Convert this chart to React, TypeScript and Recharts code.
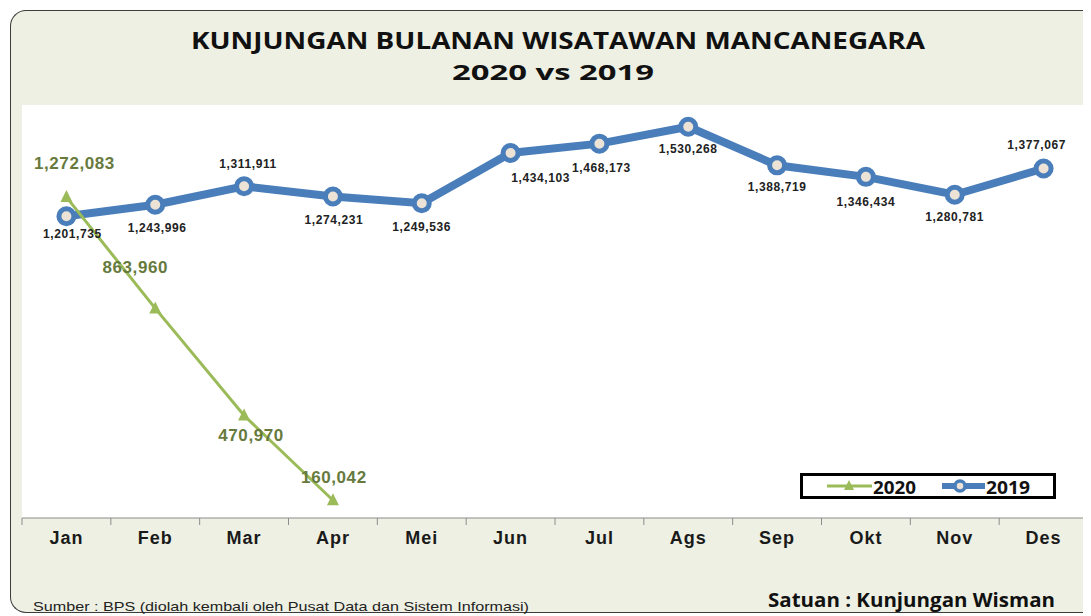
import React from 'react';
import { LineChart, Line, XAxis, YAxis, CartesianGrid, LabelList } from 'recharts';

const MONTHS = ['Jan', 'Feb', 'Mar', 'Apr', 'Mei', 'Jun', 'Jul', 'Ags', 'Sep', 'Okt', 'Nov', 'Des'];
const VISITS_2019 = [1201735, 1243996, 1311911, 1274231, 1249536, 1434103, 1468173, 1530268, 1388719, 1346434, 1280781, 1377067];
const VISITS_2020 = [1272083, 863960, 470970, 160042];

// label placement relative to each point (dx, dy)
const OFFSET_2019 = [[6, 18], [2, 23], [4, -22], [1, 23], [0, 24], [30, 25], [2, 24], [0, 22], [0, 22], [0, 25], [0, 22], [-7, -23]];
const OFFSET_2020 = [[8, -34], [-20, -41], [7, 20], [1, -23]];

const W = 1083;
const H = 608;
const PLOT_LEFT = 14;
const PLOT_RIGHT = 3;
const BAND = (W - PLOT_LEFT - PLOT_RIGHT) / MONTHS.length;

const BLUE = '#4a7ebb';
const GREEN = '#9bbb59';

const data = MONTHS.map((m, i) => ({
  month: m,
  v2019: VISITS_2019[i],
  v2020: i < VISITS_2020.length ? VISITS_2020[i] : null,
}));

const fmt = (v: number) => v.toLocaleString('en-US');

function MonthTick(props: any) {
  const { x, y, payload, index } = props;
  return (
    <g>
      <line x1={x - BAND / 2} x2={x - BAND / 2} y1={y} y2={y + 7} stroke="#8c8c8c" />
      {index === MONTHS.length - 1 && (
        <line x1={x + BAND / 2} x2={x + BAND / 2} y1={y} y2={y + 7} stroke="#8c8c8c" />
      )}
      <text x={x} y={y + 26} textAnchor="middle" fontFamily="Liberation Sans, Arial, sans-serif" fontWeight="bold" fontSize={18} letterSpacing={1} fill="#1a1a1a">
        {payload.value}
      </text>
    </g>
  );
}

function Dot2019(props: any) {
  const { cx, cy } = props;
  if (cx == null || cy == null) return <g />;
  return <circle cx={cx} cy={cy} r={7.5} fill="#ece3d6" stroke={BLUE} strokeWidth={5} />;
}

function Dot2020(props: any) {
  const { cx, cy, payload } = props;
  if (cx == null || cy == null || payload.v2020 == null) return <g />;
  return <polygon points={`${cx},${cy - 7} ${cx - 6},${cy + 5} ${cx + 6},${cy + 5}`} fill={GREEN} />;
}

function Label2019(props: any) {
  const { x, y, value, index } = props;
  const [dx, dy] = OFFSET_2019[index];
  return (
    <text x={x + dx} y={y + dy} textAnchor="middle" dominantBaseline="central" fontFamily="Liberation Sans, Arial, sans-serif" fontWeight="bold" fontSize={12} letterSpacing={0.6} fill="#222">
      {fmt(value)}
    </text>
  );
}

function Label2020(props: any) {
  const { x, y, value, index } = props;
  if (value == null || x == null) return null;
  const [dx, dy] = OFFSET_2020[index];
  return (
    <text x={x + dx} y={y + dy} textAnchor="middle" dominantBaseline="central" fontFamily="Liberation Sans, Arial, sans-serif" fontWeight="bold" fontSize={17} letterSpacing={0.6} fill="#677a3e">
      {fmt(value)}
    </text>
  );
}

export default function App() {
  return (
    <div style={{ position: 'relative', width: W, height: H }}>
      <div
        style={{
          position: 'absolute',
          left: 2,
          top: 2,
          width: 1081,
          height: 603,
          borderTop: '1.5px solid #3c3c3c',
          borderLeft: '1.5px solid #3c3c3c',
          borderBottom: '1.5px solid #3c3c3c',
          borderRadius: '16px 0 0 16px',
          background: '#eef0e3',
          boxSizing: 'border-box',
        }}
      />
      <div style={{ position: 'absolute', left: 0, top: 0 }}>
        <LineChart width={W} height={H} data={data} margin={{ top: 97, left: PLOT_LEFT, right: PLOT_RIGHT, bottom: 58 }}>
          <CartesianGrid fill="#ffffff" stroke="none" horizontal={false} vertical={false} />
          <XAxis
            dataKey="month"
            height={40}
            interval={0}
            padding={{ left: BAND / 2, right: BAND / 2 }}
            tickSize={0}
            tickMargin={0}
            tickLine={false}
            axisLine={{ stroke: '#8c8c8c' }}
            tick={<MonthTick />}
          />
          <YAxis hide domain={[95000, 1610000]} />
          <Line
            dataKey="v2019"
            stroke={BLUE}
            strokeWidth={8}
            dot={<Dot2019 />}
            activeDot={false}
            isAnimationActive={false}
          >
            <LabelList dataKey="v2019" content={<Label2019 />} />
          </Line>
          <Line
            dataKey="v2020"
            stroke={GREEN}
            strokeWidth={3}
            dot={<Dot2020 />}
            activeDot={false}
            connectNulls={false}
            isAnimationActive={false}
          >
            <LabelList dataKey="v2020" content={<Label2020 />} />
          </Line>
        </LineChart>
      </div>
      <svg width={W} height={H} style={{ position: 'absolute', left: 0, top: 0, pointerEvents: 'none' }}>
        <text x={550} y={41} textAnchor="middle" fontFamily="Open Sans, sans-serif" fontWeight="bold" fontSize={23} textLength={734} lengthAdjust="spacingAndGlyphs" fill="#111">
          KUNJUNGAN BULANAN WISATAWAN MANCANEGARA
        </text>
        <text x={545} y={72} textAnchor="middle" fontFamily="Open Sans, sans-serif" fontWeight="bold" fontSize={21} textLength={202} lengthAdjust="spacingAndGlyphs" fill="#111">
          2020 vs 2019
        </text>

        <rect x={793.5} y={466.5} width={253} height={23} fill="#ffffff" stroke="#000" strokeWidth={3} />
        <line x1={819} x2={864} y1={478} y2={478} stroke={GREEN} strokeWidth={3} />
        <polygon points="841,472 836,482 846,482" fill={GREEN} />
        <text x={865} y={486} fontFamily="Open Sans, sans-serif" fontWeight="bold" fontSize={17} textLength={43} lengthAdjust="spacingAndGlyphs" fill="#111">
          2020
        </text>
        <line x1={934} x2={977} y1={478} y2={478} stroke={BLUE} strokeWidth={6} />
        <circle cx={952} cy={478} r={5} fill="#ece3d6" stroke={BLUE} strokeWidth={3.5} />
        <text x={978} y={486} fontFamily="Open Sans, sans-serif" fontWeight="bold" fontSize={17} textLength={44} lengthAdjust="spacingAndGlyphs" fill="#111">
          2019
        </text>

        <text x={25} y={603} fontFamily="Liberation Sans, Arial, sans-serif" fontSize={13} textLength={496} lengthAdjust="spacingAndGlyphs" fill="#222">
          Sumber : BPS (diolah kembali oleh Pusat Data dan Sistem Informasi)
        </text>
        <text x={760} y={599} fontFamily="Open Sans, sans-serif" fontWeight="bold" fontSize={19} textLength={287} lengthAdjust="spacingAndGlyphs" fill="#111">
          Satuan : Kunjungan Wisman
        </text>
      </svg>
    </div>
  );
}
